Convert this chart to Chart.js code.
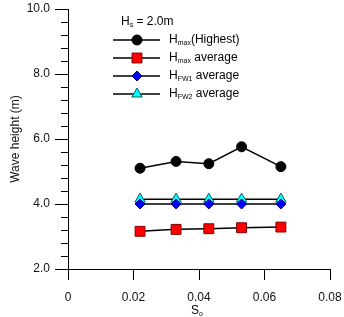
<!DOCTYPE html>
<html lang="en">
  <head>
    <meta charset="UTF-8" />
    <title>Wave height vs steepness</title>
    <script src="https://cdn.jsdelivr.net/npm/chart.js@4.4.0/dist/chart.umd.min.js"></script>
    <style>
      html, body { margin: 0; padding: 0; background: #fff; }
      .wrap { width: 344px; height: 317px; }
    </style>
  </head>
  <body>
    <div class="wrap"><canvas id="waveChart" width="344" height="317"></canvas></div>
    <script>
      // data (Hs = 2.0 m)
      const steepness = [0.022, 0.033, 0.043, 0.053, 0.065];
      const hmaxHighest = [5.10, 5.31, 5.24, 5.76, 5.15];
      const hmaxAverage = [3.16, 3.22, 3.24, 3.27, 3.29];
      const hfw1Average = [4.00, 4.00, 4.00, 4.00, 4.00];
      const hfw2Average = [4.15, 4.15, 4.15, 4.15, 4.15];

      const yTicks = [2, 4, 6, 8, 10];
      const yMinorStep = 0.4;
      const xTicks = [0, 0.02, 0.04, 0.06, 0.08];

      const FONT = "'Liberation Sans', Arial, sans-serif";

      function pts(ys) {
        return steepness.map((x, i) => ({ x: x, y: ys[i] }));
      }

      const series = [
        { main: "H", sub: "max", rest: "(Highest)", data: hmaxHighest, style: "circle", radius: 5, fill: "#000000", border: "#000000" },
        { main: "H", sub: "max", rest: " average", data: hmaxAverage, style: "rect", radius: 7, fill: "#ff0000", border: "#800000" },
        { main: "H", sub: "FW1", rest: " average", data: hfw1Average, style: "rectRot", radius: 5, fill: "#0000ff", border: "#000080" },
        { main: "H", sub: "FW2", rest: " average", data: hfw2Average, style: "triangle", radius: 6, fill: "#00ffff", border: "#006060" },
      ];

      // text with a subscript part
      function subText(ctx, x, y, main, sub, rest, size) {
        ctx.font = size + "px " + FONT;
        ctx.fillText(main, x, y);
        x += ctx.measureText(main).width;
        ctx.font = Math.round(size * 0.62) + "px " + FONT;
        ctx.fillText(sub, x, y + 3);
        x += ctx.measureText(sub).width;
        ctx.font = size + "px " + FONT;
        ctx.fillText(rest, x, y);
      }

      function noPad(scale) {
        scale.paddingLeft = 0;
        scale.paddingRight = 0;
        scale.paddingTop = 0;
        scale.paddingBottom = 0;
      }

      const extras = {
        id: "extras",
        afterDraw(chart) {
          const ctx = chart.ctx;
          const ys = chart.scales.y;
          ctx.save();
          // minor ticks on the y axis
          ctx.strokeStyle = "#000";
          ctx.lineWidth = 1;
          for (let v = ys.min; v <= ys.max + 1e-9; v += yMinorStep) {
            const py = Math.round(ys.getPixelForValue(v)) + 0.5;
            ctx.beginPath();
            ctx.moveTo(chart.chartArea.left - 7, py);
            ctx.lineTo(chart.chartArea.left, py);
            ctx.stroke();
          }

          // legend
          ctx.fillStyle = "#000";
          ctx.textBaseline = "middle";
          subText(ctx, 121, 22, "H", "s", " = 2.0m", 12);
          series.forEach((s, i) => {
            const cy = 40 + i * 18;
            ctx.strokeStyle = "#000";
            ctx.lineWidth = 1.5;
            ctx.beginPath();
            ctx.moveTo(113, cy);
            ctx.lineTo(160, cy);
            ctx.stroke();
            ctx.fillStyle = s.fill;
            ctx.strokeStyle = s.border;
            ctx.lineWidth = 1;
            Chart.helpers.drawPoint(ctx, { pointStyle: s.style, radius: s.radius, borderWidth: 1, rotation: 0 }, 137, cy);
            ctx.fillStyle = "#000";
            subText(ctx, 169, cy, s.main, s.sub, s.rest, 12);
          });

          // x axis title
          subText(ctx, 191, 311, "S", "o", "", 12);
          ctx.restore();
        },
      };

      const ctx = document.getElementById("waveChart").getContext("2d");
      new Chart(ctx, {
        type: "line",
        data: {
          datasets: series.map((s) => ({
            label: s.main + s.sub + s.rest,
            data: pts(s.data),
            borderColor: "#000",
            borderWidth: 1.5,
            backgroundColor: s.fill,
            pointStyle: s.style,
            pointRadius: s.radius,
            pointBackgroundColor: s.fill,
            pointBorderColor: s.border,
            pointBorderWidth: 1,
            tension: 0,
          })),
        },
        options: {
          responsive: false,
          animation: false,
          layout: { padding: { top: 9, right: 14, left: 0, bottom: 0 } },
          plugins: { legend: { display: false }, tooltip: { enabled: false } },
          scales: {
            x: {
              type: "linear",
              min: 0,
              max: 0.08,
              afterBuildTicks: (scale) => { scale.ticks = xTicks.map((v) => ({ value: v })); },
              afterFit: (scale) => { scale.height = 48; noPad(scale); },
              ticks: {
                color: "#111",
                font: { family: FONT, size: 12 },
                padding: 10,
                maxRotation: 0,
                callback: (v) => (v === 0 ? "0" : v.toFixed(2)),
              },
              grid: { drawOnChartArea: false, tickLength: 11, color: "#000", tickColor: "#000" },
              border: { display: true, color: "#000", width: 1 },
            },
            y: {
              min: 2,
              max: 10,
              afterBuildTicks: (scale) => { scale.ticks = yTicks.map((v) => ({ value: v })); },
              afterFit: (scale) => { scale.width = 68; noPad(scale); },
              ticks: {
                color: "#111",
                font: { family: FONT, size: 12 },
                padding: 5,
                callback: (v) => v.toFixed(1),
              },
              grid: { drawOnChartArea: false, tickLength: 13, color: "#000", tickColor: "#000" },
              border: { display: true, color: "#000", width: 1 },
              title: {
                display: true,
                text: "Wave height (m)",
                color: "#111",
                font: { family: FONT, size: 12 },
                padding: { top: 8, bottom: 0 },
              },
            },
          },
        },
        plugins: [extras],
      });
    </script>
  </body>
</html>
